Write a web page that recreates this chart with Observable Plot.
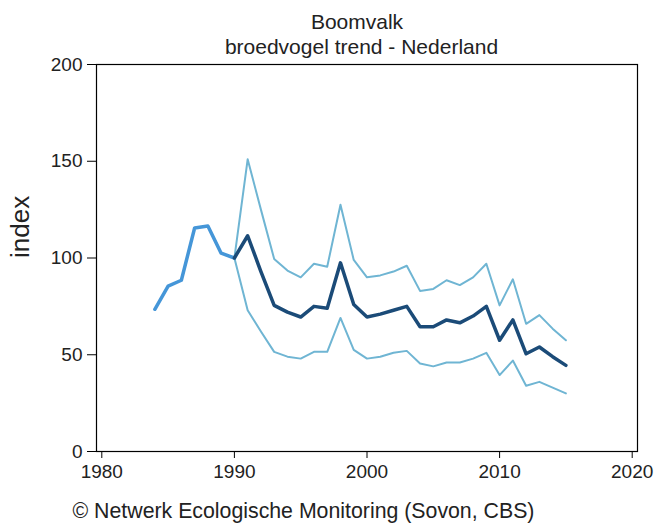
<!DOCTYPE html>
<html><head><meta charset="utf-8">
<script src="https://cdn.jsdelivr.net/npm/d3@7"></script>
<script src="https://cdn.jsdelivr.net/npm/@observablehq/plot@0.6"></script>
<style>body{margin:0;background:#fff}</style>
</head><body><div id="chart"></div>
<script>
const earlyYears = [1984, 1985, 1986, 1987, 1988, 1989, 1990];
const earlyIndex = [73.5, 85.5, 88.5, 115.5, 116.5, 102.5, 100];
const years = [1990, 1991, 1992, 1993, 1994, 1995, 1996, 1997, 1998, 1999, 2000, 2001, 2002, 2003, 2004, 2005, 2006, 2007, 2008, 2009, 2010, 2011, 2012, 2013, 2014, 2015];
const trendIndex = [100, 111.5, 93, 75.5, 72, 69.5, 75, 74, 97.5, 76, 69.5, 71, 73, 75, 64.5, 64.5, 68, 66.5, 70, 75, 57.5, 68, 50.5, 54, 49, 44.5];
const upperIndex = [100, 151, 125, 99.5, 93.5, 90, 97, 95.5, 127.5, 99, 90, 91, 93, 96, 83, 84, 88.5, 86, 90, 97, 75.5, 89, 66, 70.5, 63.5, 57.5];
const lowerIndex = [100, 73, 62, 51.5, 49, 48, 51.5, 51.5, 69, 52.5, 48, 49, 51, 52, 45.5, 44, 46, 46, 48, 51, 39.5, 47, 34, 36, 33, 30];
const xTicks = [1980, 1990, 2000, 2010, 2020];
const yTicks = [0, 50, 100, 150, 200];
const titleText = "Boomvalk";
const subtitleText = "broedvogel trend - Nederland";
const yLabel = "index";
const captionText = "© Netwerk Ecologische Monitoring (Sovon, CBS)";

const font = "'Liberation Sans', Arial, sans-serif";
const chart = Plot.plot({
  width: 666, height: 525,
  marginLeft: 96, marginRight: 29, marginTop: 64, marginBottom: 74,
  style: {fontFamily: font, fontSize: "19px", color: "#000", background: "#fff"},
  x: {domain: [1979.6, 2020.4]},
  y: {domain: [0, 200]},
  marks: [
    Plot.frame({stroke: "#000", strokeWidth: 1.2}),
    Plot.axisY({ticks: yTicks, tickSize: 9, tickPadding: 5, label: null, fontSize: 19, stroke: "#000", fill: "#222"}),
    Plot.axisX({ticks: xTicks, tickSize: 7, tickPadding: 6, tickFormat: d => String(d), label: null, fontSize: 19, stroke: "#000", fill: "#222"}),
    Plot.lineY(upperIndex, {x: years, stroke: "#6fb5d3", strokeWidth: 2, strokeLinejoin: "round"}),
    Plot.lineY(lowerIndex, {x: years, stroke: "#6fb5d3", strokeWidth: 2, strokeLinejoin: "round"}),
    Plot.lineY(earlyIndex, {x: earlyYears, stroke: "#4596d8", strokeWidth: 3.5, strokeLinejoin: "round"}),
    Plot.lineY(trendIndex, {x: years, stroke: "#1b4b78", strokeWidth: 3.5, strokeLinejoin: "round"}),
    Plot.text([yLabel], {frameAnchor: "left", dx: -76, rotate: -90, fontSize: 26, fill: "#222"}),
    Plot.text([titleText], {frameAnchor: "top", dx: -10, dy: -50, fontSize: 21, fill: "#222"}),
    Plot.text([subtitleText], {frameAnchor: "top", dx: -5.5, dy: -25, fontSize: 21, fill: "#222"}),
    Plot.text([captionText], {frameAnchor: "bottom-left", dx: -24, dy: 66.5, textAnchor: "start", fontSize: 21.3, fill: "#222"})
  ]
});
document.getElementById("chart").appendChild(chart);
</script>
</body></html>
